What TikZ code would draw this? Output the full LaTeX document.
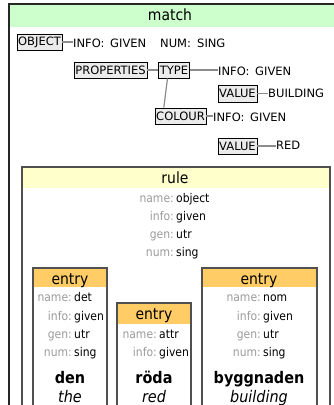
\documentclass[tikz,border=0pt]{standalone}
\usepackage{fontspec}
\setmainfont{DejaVu Sans Condensed}
\newfontfamily\treefont{DejaVu Sans}
\usetikzlibrary{positioning}

\definecolor{matchgreen}{HTML}{CCFFCC}
\definecolor{ruleyellow}{HTML}{FFFFCC}
\definecolor{entryorange}{HTML}{FFCC66}
\definecolor{keygrey}{HTML}{9A9A9A}
\definecolor{boxgrey}{HTML}{EBEBEB}
\definecolor{framegrey}{HTML}{505050}
\definecolor{linkgrey}{HTML}{8C8C8C}

\tikzset{
  feat/.style={draw=black, fill=boxgrey, inner sep=1.2pt, minimum height=16.5pt,
    font=\treefont\fontsize{11.5}{13}\selectfont},
  attr/.style={anchor=west, inner sep=0pt, font=\treefont\fontsize{11.5}{13}\selectfont},
  link/.style={draw=linkgrey, line width=1.2pt},
  frame/.style={draw=framegrey, line width=1.5pt},
  title/.style={anchor=base, inner sep=0pt, font=\fontsize{15.5}{17}\selectfont},
  key/.style={anchor=base east, inner sep=0pt, text=keygrey, font=\fontsize{12}{14}\selectfont},
  val/.style={anchor=base west, inner sep=0pt, font=\fontsize{12}{14}\selectfont},
  word/.style={anchor=base, inner sep=0pt, font=\fontsize{16}{18}\selectfont\bfseries},
  gloss/.style={anchor=base, inner sep=0pt, font=\fontsize{16}{18}\selectfont\itshape}
}

% key: value row, colon column at x
\newcommand{\featrow}[5]{%
  \node[key] (#1k) at (#2,#3) {#4:};
  \node[val] (#1v) at ([xshift=2pt]#1k.base east) {#5};
}
% KEY: VALUE pair of the feature tree, key at x #2, value at x #3
\newcommand{\attrpair}[6]{%
  \node[attr] (#1k) at (#2,#4) {#5:};
  \node[attr] (#1v) at (#3,#4) {#6};
}

\begin{document}
\begin{tikzpicture}[x=1pt, y=-1pt]
  \useasboundingbox (0,0) rectangle (334,405);
  \clip (0,0) rectangle (334,405);

  % match frame
  \fill[matchgreen] (9,4) rectangle (340,27);
  \draw[draw=black!85, line width=2pt] (9,420) -- (9,4) -- (340,4);
  \node[title] (match) at (170,20.5) {match};

  % feature tree
  \begin{scope}[every node/.style={feat}]
    \node (obj) at (39.5,42) {OBJECT};
    \node (props) at (110.5,70) {PROPERTIES};
    \node (type) at (174,70) {TYPE};
    \node (typeval) at (237.5,93.5) {VALUE};
    \node (colour) at (180.5,116) {COLOUR};
    \node (colval) at (237.5,146) {VALUE};
  \end{scope}
  \attrpair{objinfo}{73}{110}{43}{INFO}{GIVEN}
  \attrpair{objnum}{160}{197}{43}{NUM}{SING}
  \attrpair{typeinfo}{218}{255}{71}{INFO}{GIVEN}
  \attrpair{colinfo}{213}{250}{117}{INFO}{GIVEN}
  \node[attr] (building) at (268,93) {BUILDING};
  \node[attr] (redval) at (276,145.5) {RED};
  \begin{scope}[every path/.style={link}]
    \path (obj) edge (obj -| objinfok.west);
    \path (props) edge (type);
    \path (type) edge (type -| typeinfok.west);
    \path (typeval) edge (typeval -| building.west);
    \path ([xshift=9pt]type.south west) edge ([xshift=9pt]colour.north west);
    \path (colour) edge (colour -| colinfok.west);
    \path (colval) edge (colval -| redval.west);
  \end{scope}

  % rule frame
  \fill[ruleyellow] (22,167) rectangle (330,188);
  \draw[frame] (22,420) -- (22,167) -- (330,167) -- (330,420);
  \node[title] (rule) at (175,183) {rule};
  \featrow{rname}{174}{202.5}{name}{object}
  \featrow{rinfo}{174}{220.5}{info}{given}
  \featrow{rgen}{174}{238.5}{gen}{utr}
  \featrow{rnum}{174}{256.5}{num}{sing}

  % entries
  \fill[entryorange] (33,268) rectangle (107,287);
  \draw[frame] (33,420) -- (33,268) -- (107,268) -- (107,420);
  \node[title] (entryA) at (70,284) {entry};
  \featrow{aname}{72}{301.5}{name}{det}
  \featrow{ainfo}{72}{320}{info}{given}
  \featrow{agen}{72}{338}{gen}{utr}
  \featrow{anum}{72}{356.5}{num}{sing}
  \node[word] (den) at (70,383) {den};
  \node[gloss] (the) at (70,402) {the};

  \fill[entryorange] (117,303) rectangle (191,324);
  \draw[frame] (117,420) -- (117,303) -- (191,303) -- (191,420);
  \node[title] (entryB) at (154,319.5) {entry};
  \featrow{bname}{157}{338}{name}{attr}
  \featrow{binfo}{157}{356.5}{info}{given}
  \node[word] (roda) at (154,383) {röda};
  \node[gloss] (redgloss) at (154,402) {red};

  \fill[entryorange] (202,268) rectangle (317,287);
  \draw[frame] (202,420) -- (202,268) -- (317,268) -- (317,420);
  \node[title] (entryC) at (259,284) {entry};
  \featrow{cname}{261}{301.5}{name}{nom}
  \featrow{cinfo}{261}{320}{info}{given}
  \featrow{cgen}{261}{338}{gen}{utr}
  \featrow{cnum}{261}{356.5}{num}{sing}
  \node[word] (bygg) at (259,383) {byggnaden};
  \node[gloss] (buildgloss) at (259,402) {building};
\end{tikzpicture}
\end{document}
